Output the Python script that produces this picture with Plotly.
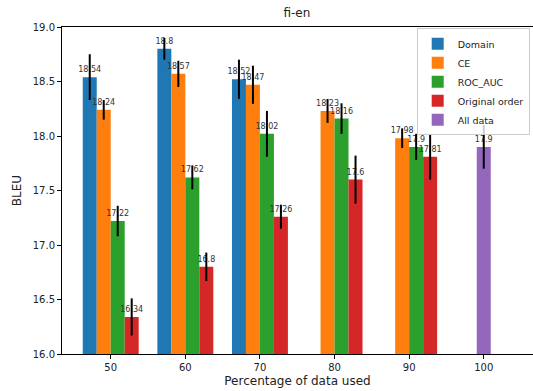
import plotly.graph_objects as go

percent = [50, 60, 70, 80, 90]
domain = [18.54, 18.8, 18.52, None, None]
domain_err = [0.21, 0.10, 0.18, 0, 0]
ce = [18.24, 18.57, 18.47, 18.23, 17.98]
ce_err = [0.09, 0.12, 0.175, 0.11, 0.09]
roc_auc = [17.22, 17.62, 18.02, 18.16, 17.9]
roc_err = [0.14, 0.11, 0.21, 0.14, 0.12]
original = [16.34, 16.8, 17.26, 17.6, 17.81]
original_err = [0.17, 0.13, 0.11, 0.22, 0.21]
all_x = [100]
all_data = [17.9]
all_err = [0.2]

W = 1.875
series = [
    ("Domain", percent, domain, domain_err, "#1f77b4", -2 * W),
    ("CE", percent, ce, ce_err, "#ff7f0e", -W),
    ("ROC_AUC", percent, roc_auc, roc_err, "#2ca02c", 0),
    ("Original order", percent, original, original_err, "#d62728", W),
    ("All data", all_x, all_data, all_err, "#9467bd", -W / 2),
]

fig = go.Figure()
for name, xs, ys, es, col, off in series:
    fig.add_trace(go.Bar(
        name=name, x=xs, y=ys, width=W, offset=off,
        marker=dict(color=col, line=dict(width=0)),
        error_y=dict(type="data", array=es, color="black", thickness=2, width=0),
        text=["" if v is None else str(v) for v in ys],
        textposition="outside", cliponaxis=False, constraintext="none",
        textfont=dict(size=8, color="#333", family="DejaVu Sans"),
    ))

fig.update_layout(
    width=533, height=391,
    margin=dict(l=62, r=0, t=27, b=37, autoexpand=False),
    barmode="overlay",
    paper_bgcolor="white", plot_bgcolor="white",
    font=dict(family="DejaVu Sans", size=10, color="#222"),
    title=dict(text="fi-en", x=0.557, xanchor="center", xref="container",
               y=1 - 13 / 391, yref="container", yanchor="middle",
               font=dict(size=12, color="#222"), automargin=False),
    legend=dict(x=0.993, y=0.996, xanchor="right", yanchor="top",
                bordercolor="#cccccc", borderwidth=1, bgcolor="rgba(255,255,255,0.8)",
                font=dict(size=9.5), tracegroupgap=0, itemwidth=30),
    showlegend=True,
)
fig.update_xaxes(range=[43.47, 106.6], tickvals=[50, 60, 70, 80, 90, 100],
                 showline=True, linecolor="black", linewidth=1, mirror=True, automargin=False,
                 ticks="outside", ticklen=4, tickcolor="black", showgrid=False, zeroline=False,
                 title=dict(text="Percentage of data used", standoff=4))
fig.update_yaxes(range=[16.0, 19.0], tickvals=[16.0, 16.5, 17.0, 17.5, 18.0, 18.5, 19.0],
                 tickformat=".1f", automargin=False,
                 showline=True, linecolor="black", linewidth=1,
                 ticks="outside", ticklen=4, tickcolor="black", showgrid=False, zeroline=False,
                 title=dict(text="BLEU", standoff=8))

fig.write_html("out.html", config={"displayModeBar": False},
               post_script="document.body.style.margin='0px';")
